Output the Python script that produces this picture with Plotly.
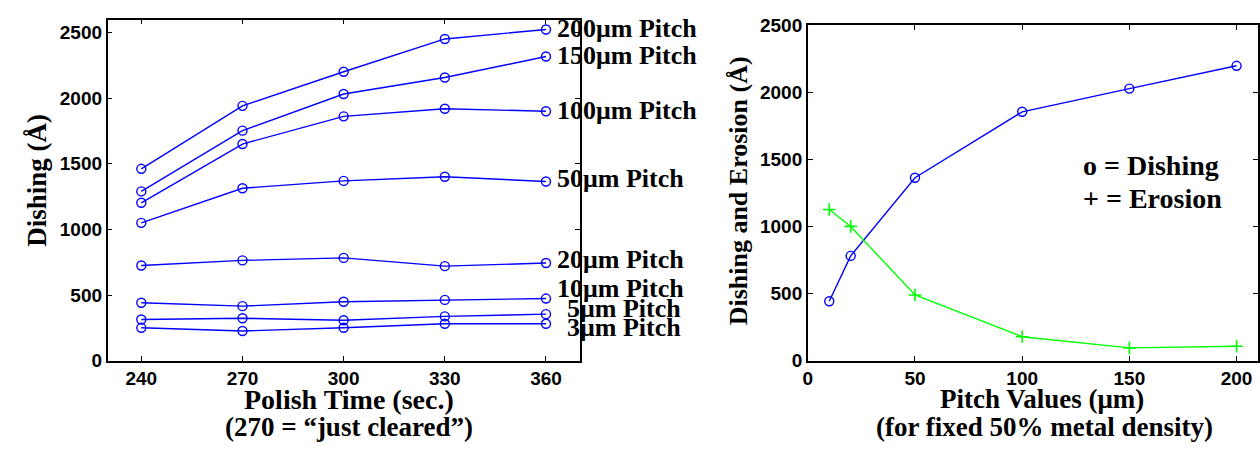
import plotly.graph_objects as go

# ---------------- data ----------------
polish_time = [240, 270, 300, 330, 360]
pitch_names = ["200μm Pitch", "150μm Pitch", "100μm Pitch", "50μm Pitch",
               "20μm Pitch", "10μm Pitch", "5μm Pitch", "3μm Pitch"]
dish_200 = [1462, 1942, 2202, 2452, 2524]
dish_150 = [1290, 1753, 2032, 2158, 2318]
dish_100 = [1203, 1651, 1862, 1920, 1901]
dish_50 = [1050, 1314, 1370, 1402, 1365]
dish_20 = [725, 764, 783, 720, 744]
dish_10 = [441, 415, 449, 463, 473]
dish_5 = [313, 323, 308, 337, 354]
dish_3 = [250, 226, 250, 281, 281]
dish_series = [dish_200, dish_150, dish_100, dish_50, dish_20, dish_10, dish_5, dish_3]

pitch_values = [10, 20, 50, 100, 150, 200]
dishing_vs_pitch = [443, 781, 1364, 1856, 2029, 2199]
erosion_vs_pitch = [1127, 1001, 490, 178, 95, 107]

left_xticks = [240, 270, 300, 330, 360]
right_xticks = [0, 50, 100, 150, 200]
yticks = [0, 500, 1000, 1500, 2000, 2500]

# label anchor positions (data coordinates) for the pitch labels
label_x = [362.6, 362.6, 362.6, 362.6, 362.6, 362.6, 365.6, 365.6]
label_y = [2532, 2326, 1904, 1388, 770, 552, 400, 254]

# ---------------- layout helpers ----------------
W, H = 1260, 457
def px(x):
    return x / W
def py(y):
    return (H - y) / H

BLUE = "#0000FF"
GREEN = "#00FF00"
SERIF = "Liberation Serif"
SANS = "Liberation Sans"

fig = go.Figure()

for ys in dish_series:
    fig.add_trace(go.Scatter(
        x=polish_time, y=ys, mode="lines+markers",
        line=dict(color=BLUE, width=1.4),
        marker=dict(symbol="circle-open", size=9, color=BLUE, line=dict(width=1.4, color=BLUE)),
        xaxis="x", yaxis="y", showlegend=False, cliponaxis=False))

fig.add_trace(go.Scatter(
    x=pitch_values, y=dishing_vs_pitch, mode="lines+markers",
    line=dict(color=BLUE, width=1.4),
    marker=dict(symbol="circle-open", size=9, color=BLUE, line=dict(width=1.4, color=BLUE)),
    xaxis="x2", yaxis="y2", showlegend=False, cliponaxis=False))
fig.add_trace(go.Scatter(
    x=pitch_values, y=erosion_vs_pitch, mode="lines+markers",
    line=dict(color=GREEN, width=1.4),
    marker=dict(symbol="cross-thin-open", size=9, color=GREEN, line=dict(width=1.6, color=GREEN)),
    xaxis="x2", yaxis="y2", showlegend=False, cliponaxis=False))

tickfont = dict(family=SANS, size=19, color="black", weight="bold")
axis_common = dict(showgrid=False, zeroline=False, showline=True, linecolor="black",
                   linewidth=1.5, mirror="allticks", ticks="inside", ticklen=5,
                   tickcolor="black", tickfont=tickfont)

fig.update_layout(
    width=W, height=H,
    margin=dict(l=0, r=0, t=0, b=0),
    paper_bgcolor="white", plot_bgcolor="white",
    xaxis=dict(domain=[px(103), px(577)], range=[230, 370], tickvals=left_xticks,
               anchor="y", **axis_common),
    yaxis=dict(domain=[py(367.5), py(10)], range=[0, 2600], tickvals=yticks,
               anchor="x", **axis_common),
    xaxis2=dict(domain=[px(806), px(1258)], range=[0, 210], tickvals=right_xticks,
                anchor="y2", **axis_common),
    yaxis2=dict(domain=[py(367.5), py(16.2)], range=[0, 2500], tickvals=yticks,
                anchor="x2", **axis_common),
)

annotations = []
for name, lx, ly in zip(pitch_names, label_x, label_y):
    annotations.append(dict(text=name, x=lx, y=ly, xref="x", yref="y",
                            xanchor="left", yanchor="middle", showarrow=False,
                            font=dict(family=SERIF, size=26, color="black", weight="bold")))

def add_text(text, x, y, angle=0, size=27):
    annotations.append(dict(text=text, x=px(x), y=py(y), xref="paper", yref="paper",
                            xanchor="center", yanchor="middle", showarrow=False, textangle=angle,
                            font=dict(family=SERIF, size=size, color="black", weight="bold")))

add_text("Polish Time (sec.)", 345, 408, size=28)
add_text("(270 = “just cleared”)", 345, 437, size=27)
add_text("Pitch Values (μm)", 1041, 408)
add_text("(for fixed 50% metal density)", 1044, 437)
add_text("Dishing (Å)", 32, 178, angle=-90)
add_text("Dishing and Erosion (Å)", 736, 190, angle=-90, size=26)

annotations.append(dict(text="o = Dishing", x=px(1080), y=py(163), xref="paper", yref="paper",
                        xanchor="left", yanchor="middle", showarrow=False,
                        font=dict(family=SERIF, size=28, color="black", weight="bold")))
annotations.append(dict(text="+ = Erosion", x=px(1080), y=py(198), xref="paper", yref="paper",
                        xanchor="left", yanchor="middle", showarrow=False,
                        font=dict(family=SERIF, size=28, color="black", weight="bold")))

fig.update_layout(annotations=annotations)

fig.write_html("out.html")
